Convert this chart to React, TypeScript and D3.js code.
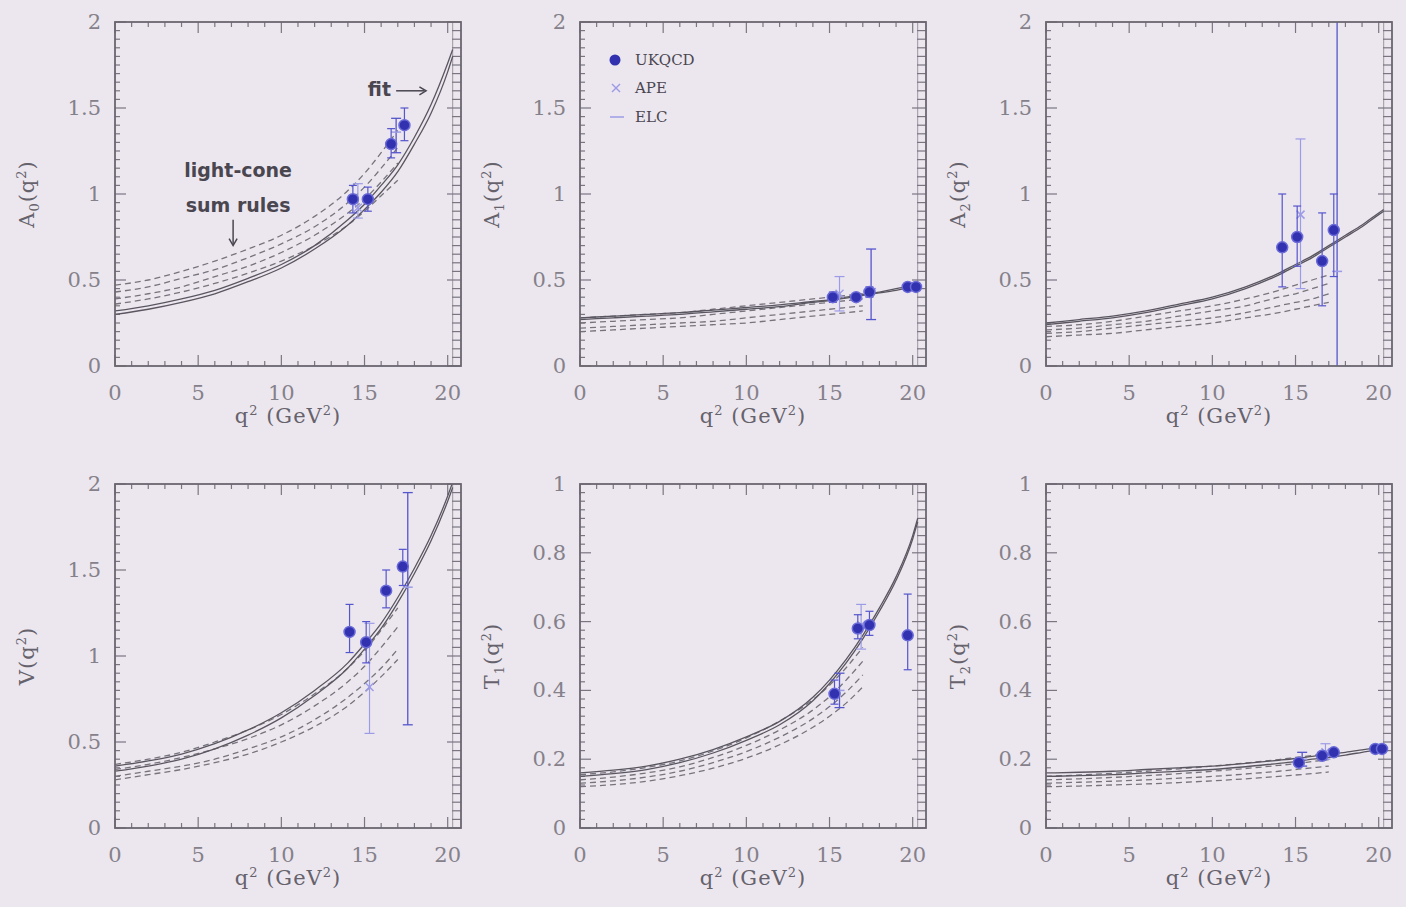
import React from 'react';
import * as d3 from 'd3';

// ---------- data ----------
const Q_FIT = [0, 2, 4, 6, 8, 10, 12, 14, 15, 16, 17, 18, 19, 20, 20.3];
const Q_LCSR = [0, 2, 4, 6, 8, 10, 12, 14, 15, 16, 17];
const X_TICKS = [0, 5, 10, 15, 20];
const Y_TICKS_2 = [0, 0.5, 1, 1.5, 2];
const Y_TICKS_1 = [0, 0.2, 0.4, 0.6, 0.8, 1];

// A0
const A0_fit1 = [0.30, 0.33, 0.37, 0.42, 0.49, 0.57, 0.68, 0.82, 0.91, 1.01, 1.13, 1.29, 1.47, 1.71, 1.80];
const A0_fit2 = [0.32, 0.35, 0.39, 0.44, 0.51, 0.59, 0.70, 0.85, 0.94, 1.05, 1.17, 1.33, 1.52, 1.76, 1.84];
const A0_lc1 = [0.36, 0.39, 0.43, 0.48, 0.54, 0.61, 0.70, 0.82, 0.90, 0.99, 1.08];
const A0_lc2 = [0.39, 0.42, 0.46, 0.52, 0.58, 0.66, 0.76, 0.89, 0.97, 1.07, 1.18];
const A0_lc3 = [0.43, 0.46, 0.51, 0.56, 0.63, 0.71, 0.81, 0.95, 1.04, 1.15, 1.27];
const A0_lc4 = [0.47, 0.50, 0.55, 0.61, 0.68, 0.76, 0.87, 1.02, 1.12, 1.24, 1.37];
const A0_ukqcd = [
  { q: 14.3, v: 0.97, lo: 0.89, hi: 1.05 },
  { q: 15.2, v: 0.97, lo: 0.90, hi: 1.04 },
  { q: 16.6, v: 1.29, lo: 1.21, hi: 1.38 },
  { q: 17.4, v: 1.40, lo: 1.31, hi: 1.50 },
];
const A0_ape = [{ q: 14.6, v: 0.92, lo: 0.86, hi: 1.06 }];
const A0_elc = [{ q: 16.9, v: 1.36, lo: 1.24, hi: 1.44 }];

// A1
const A1_fit1 = [0.27, 0.28, 0.29, 0.30, 0.315, 0.33, 0.345, 0.37, 0.38, 0.395, 0.41, 0.425, 0.44, 0.46, 0.465];
const A1_fit2 = [0.28, 0.29, 0.30, 0.31, 0.325, 0.34, 0.355, 0.375, 0.385, 0.40, 0.415, 0.43, 0.45, 0.465, 0.47];
const A1_lc1 = [0.20, 0.21, 0.22, 0.23, 0.24, 0.25, 0.27, 0.29, 0.30, 0.31, 0.32];
const A1_lc2 = [0.22, 0.23, 0.24, 0.25, 0.26, 0.28, 0.30, 0.32, 0.33, 0.34, 0.35];
const A1_lc3 = [0.25, 0.26, 0.27, 0.28, 0.30, 0.32, 0.34, 0.36, 0.37, 0.38, 0.39];
const A1_lc4 = [0.28, 0.29, 0.30, 0.31, 0.33, 0.35, 0.37, 0.39, 0.40, 0.41, 0.42];
const A1_ukqcd = [
  { q: 15.2, v: 0.40, lo: 0.37, hi: 0.43 },
  { q: 16.6, v: 0.40, lo: 0.38, hi: 0.42 },
  { q: 17.4, v: 0.43, lo: 0.40, hi: 0.46 },
  { q: 19.7, v: 0.46, lo: 0.45, hi: 0.47 },
  { q: 20.2, v: 0.46, lo: 0.45, hi: 0.47 },
];
const A1_ape = [{ q: 15.6, v: 0.42, lo: 0.32, hi: 0.52 }];
const A1_elc = [{ q: 17.5, v: 0.45, lo: 0.27, hi: 0.68 }];

// A2
const A2_fit1 = [0.24, 0.26, 0.28, 0.31, 0.35, 0.39, 0.45, 0.53, 0.58, 0.63, 0.69, 0.75, 0.81, 0.88, 0.90];
const A2_fit2 = [0.25, 0.27, 0.29, 0.32, 0.36, 0.40, 0.46, 0.54, 0.59, 0.64, 0.70, 0.76, 0.82, 0.89, 0.91];
const A2_lc1 = [0.17, 0.18, 0.19, 0.21, 0.23, 0.25, 0.28, 0.31, 0.33, 0.35, 0.37];
const A2_lc2 = [0.19, 0.20, 0.22, 0.24, 0.26, 0.28, 0.31, 0.35, 0.37, 0.39, 0.42];
const A2_lc3 = [0.21, 0.22, 0.24, 0.26, 0.29, 0.32, 0.35, 0.40, 0.42, 0.45, 0.48];
const A2_lc4 = [0.23, 0.24, 0.26, 0.29, 0.32, 0.35, 0.39, 0.44, 0.47, 0.50, 0.53];
const A2_ukqcd = [
  { q: 14.2, v: 0.69, lo: 0.46, hi: 1.00 },
  { q: 15.1, v: 0.75, lo: 0.58, hi: 0.93 },
  { q: 16.6, v: 0.61, lo: 0.35, hi: 0.89 },
  { q: 17.3, v: 0.79, lo: 0.52, hi: 1.00 },
];
const A2_ape = [{ q: 15.3, v: 0.88, lo: 0.45, hi: 1.32 }];
const A2_elc = [{ q: 17.5, v: 0.55, lo: -0.2, hi: 2.2 }];

// V
const V_fit1 = [0.33, 0.36, 0.40, 0.46, 0.54, 0.64, 0.77, 0.93, 1.04, 1.16, 1.31, 1.48, 1.67, 1.90, 1.98];
const V_fit2 = [0.36, 0.39, 0.43, 0.49, 0.57, 0.67, 0.80, 0.96, 1.07, 1.19, 1.34, 1.51, 1.70, 1.93, 2.01];
const V_lc1 = [0.28, 0.31, 0.34, 0.38, 0.43, 0.50, 0.59, 0.71, 0.79, 0.88, 0.98];
const V_lc2 = [0.30, 0.33, 0.36, 0.40, 0.46, 0.53, 0.63, 0.76, 0.84, 0.93, 1.04];
const V_lc3 = [0.34, 0.37, 0.41, 0.46, 0.52, 0.60, 0.71, 0.85, 0.94, 1.05, 1.17];
const V_lc4 = [0.37, 0.40, 0.44, 0.50, 0.57, 0.66, 0.78, 0.93, 1.03, 1.15, 1.28];
const V_ukqcd = [
  { q: 14.1, v: 1.14, lo: 1.02, hi: 1.30 },
  { q: 15.1, v: 1.08, lo: 0.96, hi: 1.20 },
  { q: 16.3, v: 1.38, lo: 1.28, hi: 1.50 },
  { q: 17.3, v: 1.52, lo: 1.41, hi: 1.62 },
];
const V_ape = [{ q: 15.3, v: 0.82, lo: 0.55, hi: 1.19 }];
const V_elc = [{ q: 17.6, v: 1.40, lo: 0.60, hi: 1.95 }];

// T1
const T1_fit1 = [0.15, 0.158, 0.170, 0.19, 0.218, 0.255, 0.30, 0.37, 0.42, 0.48, 0.55, 0.63, 0.72, 0.84, 0.89];
const T1_fit2 = [0.16, 0.168, 0.180, 0.20, 0.228, 0.265, 0.31, 0.38, 0.43, 0.49, 0.56, 0.64, 0.73, 0.85, 0.90];
const T1_lc1 = [0.12, 0.126, 0.136, 0.152, 0.174, 0.203, 0.242, 0.293, 0.325, 0.363, 0.41];
const T1_lc2 = [0.13, 0.137, 0.148, 0.165, 0.190, 0.222, 0.264, 0.318, 0.353, 0.395, 0.445];
const T1_lc3 = [0.14, 0.148, 0.160, 0.178, 0.205, 0.240, 0.285, 0.343, 0.382, 0.430, 0.485];
const T1_lc4 = [0.155, 0.163, 0.176, 0.195, 0.224, 0.262, 0.311, 0.373, 0.415, 0.466, 0.525];
const T1_ukqcd = [
  { q: 15.3, v: 0.39, lo: 0.36, hi: 0.43 },
  { q: 16.7, v: 0.58, lo: 0.55, hi: 0.62 },
  { q: 17.4, v: 0.59, lo: 0.56, hi: 0.63 },
  { q: 19.7, v: 0.56, lo: 0.46, hi: 0.68 },
];
const T1_ape = [{ q: 16.9, v: 0.59, lo: 0.52, hi: 0.65 }];
const T1_elc = [{ q: 15.6, v: 0.40, lo: 0.35, hi: 0.45 }];

// T2
const T2_fit1 = [0.150, 0.152, 0.155, 0.160, 0.165, 0.170, 0.178, 0.188, 0.193, 0.200, 0.205, 0.212, 0.220, 0.228, 0.230];
const T2_fit2 = [0.160, 0.162, 0.165, 0.170, 0.175, 0.180, 0.188, 0.197, 0.202, 0.208, 0.214, 0.220, 0.227, 0.234, 0.236];
const T2_lc1 = [0.120, 0.122, 0.125, 0.128, 0.132, 0.137, 0.143, 0.150, 0.154, 0.158, 0.163];
const T2_lc2 = [0.130, 0.133, 0.136, 0.140, 0.145, 0.150, 0.157, 0.165, 0.170, 0.175, 0.180];
const T2_lc3 = [0.140, 0.143, 0.147, 0.152, 0.158, 0.165, 0.173, 0.182, 0.187, 0.193, 0.199];
const T2_lc4 = [0.150, 0.154, 0.159, 0.165, 0.172, 0.180, 0.189, 0.199, 0.205, 0.211, 0.218];
const T2_ukqcd = [
  { q: 15.2, v: 0.19, lo: 0.18, hi: 0.20 },
  { q: 16.6, v: 0.21, lo: 0.20, hi: 0.22 },
  { q: 17.3, v: 0.22, lo: 0.21, hi: 0.23 },
  { q: 19.8, v: 0.23, lo: 0.22, hi: 0.24 },
  { q: 20.2, v: 0.23, lo: 0.22, hi: 0.24 },
];
const T2_ape = [{ q: 16.8, v: 0.22, lo: 0.20, hi: 0.245 }];
const T2_elc = [{ q: 15.4, v: 0.20, lo: 0.18, hi: 0.22 }];

const LEGEND = ['UKQCD', 'APE', 'ELC'];

type Pt = { q: number; v: number; lo: number; hi: number };
type PanelDef = {
  name: string; sub: string; yMax: number; yTicks: number[]; yMinor: number;
  fits: number[][]; lcsr: number[][]; ukqcd: Pt[]; ape: Pt[]; elc: Pt[];
};

const PANELS: PanelDef[] = [
  { name: 'A', sub: '0', yMax: 2, yTicks: Y_TICKS_2, yMinor: 0.05, fits: [A0_fit1, A0_fit2], lcsr: [A0_lc1, A0_lc2, A0_lc3, A0_lc4], ukqcd: A0_ukqcd, ape: A0_ape, elc: A0_elc },
  { name: 'A', sub: '1', yMax: 2, yTicks: Y_TICKS_2, yMinor: 0.05, fits: [A1_fit1, A1_fit2], lcsr: [A1_lc1, A1_lc2, A1_lc3, A1_lc4], ukqcd: A1_ukqcd, ape: A1_ape, elc: A1_elc },
  { name: 'A', sub: '2', yMax: 2, yTicks: Y_TICKS_2, yMinor: 0.05, fits: [A2_fit1, A2_fit2], lcsr: [A2_lc1, A2_lc2, A2_lc3, A2_lc4], ukqcd: A2_ukqcd, ape: A2_ape, elc: A2_elc },
  { name: 'V', sub: '', yMax: 2, yTicks: Y_TICKS_2, yMinor: 0.05, fits: [V_fit1, V_fit2], lcsr: [V_lc1, V_lc2, V_lc3, V_lc4], ukqcd: V_ukqcd, ape: V_ape, elc: V_elc },
  { name: 'T', sub: '1', yMax: 1, yTicks: Y_TICKS_1, yMinor: 0.025, fits: [T1_fit1, T1_fit2], lcsr: [T1_lc1, T1_lc2, T1_lc3, T1_lc4], ukqcd: T1_ukqcd, ape: T1_ape, elc: T1_elc },
  { name: 'T', sub: '2', yMax: 1, yTicks: Y_TICKS_1, yMinor: 0.025, fits: [T2_fit1, T2_fit2], lcsr: [T2_lc1, T2_lc2, T2_lc3, T2_lc4], ukqcd: T2_ukqcd, ape: T2_ape, elc: T2_elc },
];

// ---------- layout / style ----------
const W = 1406, H = 907;
const COL_X = [115, 580, 1046];
const ROW_Y = [22, 484];
const PW = 346, PH = 344;
const BG = '#ece7ef';
const FRAME = '#6a6670';
const TICKCOL = '#7a7680';
const LABEL = '#85818a';
const TITLE = '#66626c';
const DARK_BLUE = '#3232b0';
const MID_BLUE = '#5555cc';
const LIGHT_BLUE = '#9c9ce6';
const SERIF = '"DejaVu Serif", "Liberation Serif", serif';
const SANS = '"DejaVu Sans", "Open Sans", sans-serif';

function Panel({ p, idx }: { p: PanelDef; idx: number }) {
  const x0 = COL_X[idx % 3];
  const y0 = ROW_Y[Math.floor(idx / 3)];
  const x = d3.scaleLinear().domain([0, 20.8]).range([0, PW]);
  const y = d3.scaleLinear().domain([0, p.yMax]).range([PH, 0]);
  const clipId = `clip${idx}`;

  const fitLine = (vals: number[]) =>
    d3.line<number>().x((_, i) => x(Q_FIT[i])).y((v) => y(v)).curve(d3.curveMonotoneX)(vals) || '';
  const lcLine = (vals: number[]) =>
    d3.line<number>().x((_, i) => x(Q_LCSR[i])).y((v) => y(v)).curve(d3.curveMonotoneX)(vals) || '';

  const xMinor = d3.range(0, 21, 1);
  const yMinor = d3.range(0, p.yMax + 1e-9, p.yMinor);
  const isMajorY = (v: number) => p.yTicks.some((t) => Math.abs(t - v) < 1e-6);

  const errBar = (d: Pt, color: string, w: number, cap: number, key: string) => (
    <g key={key} stroke={color} strokeWidth={w}>
      <line x1={x(d.q)} x2={x(d.q)} y1={y(d.lo)} y2={y(d.hi)} />
      <line x1={x(d.q) - cap} x2={x(d.q) + cap} y1={y(d.lo)} y2={y(d.lo)} />
      <line x1={x(d.q) - cap} x2={x(d.q) + cap} y1={y(d.hi)} y2={y(d.hi)} />
    </g>
  );

  return (
    <g transform={`translate(${x0},${y0})`}>
      <defs>
        <clipPath id={clipId}>
          <rect x={0} y={0} width={PW} height={PH} />
        </clipPath>
      </defs>
      {/* ticks */}
      <g stroke={TICKCOL} strokeWidth={1.2}>
        {xMinor.map((q) => {
          const len = q % 5 === 0 ? 11 : 5;
          return (
            <g key={`xt${q}`}>
              <line x1={x(q)} x2={x(q)} y1={PH} y2={PH - len} />
              <line x1={x(q)} x2={x(q)} y1={0} y2={len} />
            </g>
          );
        })}
        {yMinor.map((v, i) => {
          const major = isMajorY(v);
          return (
            <g key={`yt${i}`}>
              <line x1={0} x2={major ? 11 : 5} y1={y(v)} y2={y(v)} />
              <line x1={PW} x2={PW - (major ? 14 : 9)} y1={y(v)} y2={y(v)} />
            </g>
          );
        })}
      </g>
      <line x1={x(20.3)} x2={x(20.3)} y1={0} y2={PH} stroke={TICKCOL} strokeWidth={1} opacity={0.7} />
      {/* curves */}
      <g clipPath={`url(#${clipId})`} fill="none">
        {p.lcsr.map((vals, i) => (
          <path key={`lc${i}`} d={lcLine(vals)} stroke="#77737c" strokeWidth={1.3} strokeDasharray="6,4" />
        ))}
        {p.fits.map((vals, i) => (
          <path key={`fit${i}`} d={fitLine(vals)} stroke="#5a5660" strokeWidth={1.3} />
        ))}
        {/* data */}
        {p.elc.map((d, i) => errBar(d, MID_BLUE, 1.3, 5, `elc${i}`))}
        {p.elc.map((d, i) => (
          <line key={`elcm${i}`} x1={x(d.q) - 5} x2={x(d.q) + 5} y1={y(d.v)} y2={y(d.v)} stroke={LIGHT_BLUE} strokeWidth={1.5} />
        ))}
        {p.ape.map((d, i) => errBar(d, LIGHT_BLUE, 1.2, 5, `ape${i}`))}
        {p.ape.map((d, i) => (
          <g key={`apem${i}`} stroke={LIGHT_BLUE} strokeWidth={1.5}>
            <line x1={x(d.q) - 4} x2={x(d.q) + 4} y1={y(d.v) - 4} y2={y(d.v) + 4} />
            <line x1={x(d.q) - 4} x2={x(d.q) + 4} y1={y(d.v) + 4} y2={y(d.v) - 4} />
          </g>
        ))}
        {p.ukqcd.map((d, i) => errBar(d, MID_BLUE, 1.2, 4, `uk${i}`))}
        {p.ukqcd.map((d, i) => (
          <circle key={`ukm${i}`} cx={x(d.q)} cy={y(d.v)} r={5.5} fill={DARK_BLUE} stroke="#6a6ad8" strokeWidth={1.5} />
        ))}
      </g>
      {/* frame */}
      <rect x={0} y={0} width={PW} height={PH} fill="none" stroke={FRAME} strokeWidth={1.8} />
      {/* tick labels */}
      <g fontFamily={SERIF} fontSize={21} fill={LABEL}>
        {X_TICKS.map((q) => (
          <text key={`xl${q}`} x={x(q)} y={PH + 34} textAnchor="middle">{q}</text>
        ))}
        {p.yTicks.map((v) => (
          <text key={`yl${v}`} x={-14} y={y(v) + 7} textAnchor="end">{String(v)}</text>
        ))}
      </g>
      {/* axis titles */}
      <text x={PW / 2} y={PH + 57} textAnchor="middle" fontFamily={SERIF} fontSize={21} fill={TITLE} letterSpacing={1}>
        q<tspan dy={-8} fontSize={13}>2</tspan>
        <tspan dy={8}>{'  (GeV'}</tspan>
        <tspan dy={-8} fontSize={13}>2</tspan>
        <tspan dy={8}>)</tspan>
      </text>
      <text transform={`translate(${-81},${PH / 2}) rotate(-90)`} textAnchor="middle" fontFamily={SERIF} fontSize={21} fill={TITLE} letterSpacing={1}>
        {p.name}
        {p.sub ? <tspan dy={5} fontSize={13}>{p.sub}</tspan> : null}
        <tspan dy={p.sub ? -5 : 0}>(q</tspan>
        <tspan dy={-8} fontSize={13}>2</tspan>
        <tspan dy={8}>)</tspan>
      </text>
      {idx === 0 && (
        <g fontFamily={SANS} fontSize={19} fill="#4a4650" fontWeight="bold">
          <text x={x(7.4)} y={y(1.10)} textAnchor="middle">light-cone</text>
          <text x={x(7.4)} y={y(0.895)} textAnchor="middle">sum rules</text>
          <line x1={x(7.1)} x2={x(7.1)} y1={y(0.85)} y2={y(0.71)} stroke="#4a4650" strokeWidth={1.5} />
          <path d={`M${x(7.1) - 4},${y(0.74)} L${x(7.1)},${y(0.70)} L${x(7.1) + 4},${y(0.74)}`} fill="none" stroke="#4a4650" strokeWidth={1.5} />
          <text x={x(15.2)} y={y(1.57)}>fit</text>
          <line x1={x(16.9)} x2={x(18.6)} y1={y(1.60)} y2={y(1.60)} stroke="#4a4650" strokeWidth={1.5} />
          <path d={`M${x(18.3)},${y(1.60) - 4} L${x(18.7)},${y(1.60)} L${x(18.3)},${y(1.60) + 4}`} fill="none" stroke="#4a4650" strokeWidth={1.5} />
        </g>
      )}
      {idx === 1 && (
        <g fontFamily={SERIF} fontSize={15} fill="#4a4650">
          <circle cx={35} cy={38} r={5.5} fill={DARK_BLUE} />
          <text x={55} y={43}>{LEGEND[0]}</text>
          <g stroke={LIGHT_BLUE} strokeWidth={1.5}>
            <line x1={32} x2={40} y1={62} y2={70} />
            <line x1={32} x2={40} y1={70} y2={62} />
          </g>
          <text x={55} y={71}>{LEGEND[1]}</text>
          <line x1={30} x2={44} y1={95} y2={95} stroke={LIGHT_BLUE} strokeWidth={1.5} />
          <text x={55} y={100}>{LEGEND[2]}</text>
        </g>
      )}
    </g>
  );
}

export default function App() {
  return (
    <svg width={W} height={H} style={{ position: 'absolute', left: 0, top: 0, display: 'block' }}>
      <rect x={0} y={0} width={W} height={H} fill={BG} />
      {PANELS.map((p, i) => (
        <Panel key={i} p={p} idx={i} />
      ))}
    </svg>
  );
}
